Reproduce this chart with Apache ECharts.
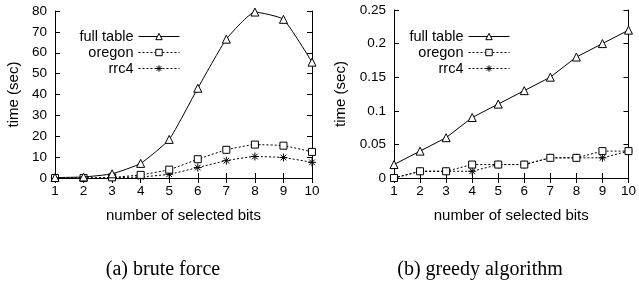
<!DOCTYPE html>
<html>
<head>
<meta charset="utf-8">
<script src="https://cdn.jsdelivr.net/npm/echarts@6/dist/echarts.min.js"></script>
<style>
html,body{margin:0;padding:0;background:#fff;}
#c{width:639px;height:286px;}
</style>
</head>
<body>
<div id="c"></div>
<script>
// Data
const bits = ['1','2','3','4','5','6','7','8','9','10'];
// (a) brute force
const bruteFull = [0.2, 0.5, 2, 7, 18.5, 43, 66.5, 79.5, 76, 55.5];
const bruteOregon = [0, 0, 0.3, 1.5, 4, 9, 13.5, 16, 15.5, 12.5];
const bruteRrc4 = [0, 0, 0.1, 0.5, 1.8, 5, 8.3, 10.3, 9.8, 7.5];
// (b) greedy algorithm
const greedyFull = [0.02, 0.04, 0.06, 0.09, 0.11, 0.13, 0.15, 0.18, 0.20, 0.22];
const greedyOregon = [0, 0.01, 0.01, 0.02, 0.02, 0.02, 0.03, 0.03, 0.04, 0.04];
const greedyRrc4 = [0, 0.01, 0.01, 0.01, 0.02, 0.02, 0.03, 0.03, 0.03, 0.04];
const seriesNames = ['full table', 'oregon', 'rrc4'];
const captions = ['(a) brute force', '(b) greedy algorithm'];

const FONT = 'Liberation Sans, Arial, sans-serif';
const star = 'path://M0 5 L10 5 M5 0 L5 10 M1.5 1.5 L8.5 8.5 M8.5 1.5 L1.5 8.5';
const symbols = ['triangle', 'rect', star];
const symbolSizes = [8, 7, 8];
const dashes = ['solid', [2, 2], [2, 2]];
const fills = ['#fff', '#fff', 'none'];

const chart = echarts.init(document.getElementById('c'), null, {renderer: 'canvas'});

function xAxes(gi) {
  return [
    {
      type: 'category', gridIndex: gi, data: bits, boundaryGap: false,
      axisLine: {lineStyle: {color: '#000', width: 1}},
      axisTick: {inside: true, length: 5, alignWithLabel: true, lineStyle: {color: '#000'}},
      axisLabel: {color: '#000', fontFamily: FONT, fontSize: 13.5, margin: 6},
      name: 'number of selected bits', nameLocation: 'middle', nameGap: 30,
      nameTextStyle: {color: '#000', fontFamily: FONT, fontSize: 15},
      splitLine: {show: false}
    },
    {
      type: 'category', gridIndex: gi, data: bits, boundaryGap: false, position: 'top',
      axisLine: {lineStyle: {color: '#000', width: 1}},
      axisTick: {inside: true, length: 5, lineStyle: {color: '#000'}},
      axisLabel: {show: false}, splitLine: {show: false}
    }
  ];
}
function yAxes(gi, max, interval, fmt, gap) {
  return [
    {
      type: 'value', gridIndex: gi, min: 0, max: max, interval: interval,
      axisLine: {show: true, lineStyle: {color: '#000', width: 1}},
      axisTick: {show: true, inside: true, length: 5, lineStyle: {color: '#000'}},
      axisLabel: {color: '#000', fontFamily: FONT, fontSize: 13.5, margin: 8, formatter: fmt},
      name: 'time (sec)', nameLocation: 'middle', nameGap: gap, nameRotate: 90,
      nameTextStyle: {color: '#000', fontFamily: FONT, fontSize: 15},
      splitLine: {show: false}
    },
    {
      type: 'value', gridIndex: gi, min: 0, max: max, interval: interval, position: 'right',
      axisLine: {show: true, lineStyle: {color: '#000', width: 1}},
      axisTick: {show: true, inside: true, length: 5, lineStyle: {color: '#000'}},
      axisLabel: {show: false}, splitLine: {show: false}
    }
  ];
}
function mkSeries(gi, data, idx) {
  return {
    type: 'line', xAxisIndex: gi * 2, yAxisIndex: gi * 2, data: data,
    name: seriesNames[idx], smooth: gi === 0 ? 0.15 : false,
    showAllSymbol: true, animation: false, z: 3 - idx,
    symbol: symbols[idx], symbolSize: symbolSizes[idx],
    lineStyle: {color: '#000', width: 1, type: dashes[idx]},
    itemStyle: {color: fills[idx], borderColor: '#000', borderWidth: 1}
  };
}
function legend(right) {
  return {
    data: seriesNames.map((n, i) => ({
      name: n,
      itemStyle: {color: fills[i], borderColor: '#000', borderWidth: 1},
      lineStyle: {color: '#000', width: 1, type: dashes[i]}
    })),
    orient: 'vertical', align: 'right',
    right: right, top: 24, itemWidth: 41, itemHeight: 8, itemGap: 1,
    itemStyle: {borderWidth: 1},
    lineStyle: {width: 1},
    textStyle: {color: '#000', fontFamily: FONT, fontSize: 14.5, width: 60, align: 'right', lineHeight: 14},
    selectedMode: false
  };
}

const fmtA = v => String(v);
const fmtB = v => (v === 0 ? '0' : String(Math.round(v * 100) / 100));

chart.setOption({
  animation: false,
  backgroundColor: '#fff',
  grid: [
    {left: 55, right: 327, top: 11, bottom: 108, containLabel: false},
    {left: 394, right: 7, top: 10, bottom: 108, containLabel: false}
  ],
  xAxis: xAxes(0).concat(xAxes(1).map(a => Object.assign(a, {gridIndex: 1}))),
  yAxis: yAxes(0, 80, 10, fmtA, 34).concat(yAxes(1, 0.25, 0.05, fmtB, 46)),
  legend: [legend(454), legend(124)],
  series: [
    mkSeries(0, bruteFull, 0), mkSeries(0, bruteOregon, 1), mkSeries(0, bruteRrc4, 2),
    mkSeries(1, greedyFull, 0), mkSeries(1, greedyOregon, 1), mkSeries(1, greedyRrc4, 2)
  ],
  graphic: [
    {type: 'text', position: [163, 270], style: {text: captions[0], font: '20px "Liberation Serif", "Times New Roman", serif', fill: '#000', textAlign: 'center', textVerticalAlign: 'middle'}},
    {type: 'text', position: [480, 270], style: {text: captions[1], font: '20px "Liberation Serif", "Times New Roman", serif', fill: '#000', textAlign: 'center', textVerticalAlign: 'middle'}}
  ]
});
</script>
</body>
</html>
